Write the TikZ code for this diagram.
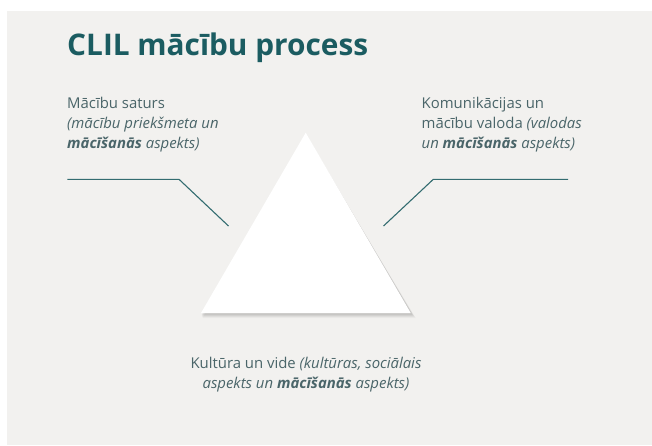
\documentclass[tikz,border=0pt]{standalone}
\usepackage{fontspec}
\setmainfont{Open Sans}
\definecolor{bgc}{HTML}{F2F1EF}
\definecolor{titlec}{HTML}{1B5C61}
\definecolor{textc}{HTML}{4A6569}
\definecolor{linec}{HTML}{336C70}
\begin{document}
\begin{tikzpicture}[x=1pt,y=-1pt,
  lbl/.style={inner sep=0pt,text=textc,font=\fontsize{14.9}{20}\selectfont},
  leader/.style={draw=linec,line width=1.1pt}]
\useasboundingbox (0,0) rectangle (652,445);
\fill[white] (0,0) rectangle (652,445);
\fill[bgc] (7,11) rectangle (652,445);
% title
\node[inner sep=0pt,anchor=base west,text=titlec,font=\fontsize{29.8}{32}\selectfont\bfseries] (title) at (67,55) {CLIL mācību process};
% triangle shadow
\foreach \o/\a in {5/0.03,4/0.04,3/0.05,2/0.06}{
  \fill[black,opacity=\a] (305.7+\o*0.3,132.7+\o) -- (410.7+\o,313+\o) -- (201+\o*0.3,313+\o) -- cycle;
}
\fill[white] (305.7,132.7) coordinate (apex) -- (410.7,313) coordinate (br) -- (201,313) coordinate (bl) -- cycle;
% labels (anchored at the baseline of the last line)
\node[lbl,anchor=base west,align=left] (lt) at (67,148) {Mācību saturs\\\textit{(mācību priekšmeta un}\\\textit{\textbf{mācīšanās} aspekts)}};
\node[lbl,anchor=base west,align=left] (rt) at (421.5,148) {Komunikācijas un\\mācību valoda \textit{(valodas}\\\textit{un \textbf{mācīšanās} aspekts)}};
\node[lbl,anchor=base,align=center] (bt) at (306,388) {Kultūra un vide \textit{(kultūras, sociālais}\\\textit{aspekts un \textbf{mācīšanās} aspekts)}};
% leader lines
\coordinate (l0) at (67.3,179.3);
\coordinate (l1) at (179,179.3);
\coordinate (l2) at (228.5,226);
\coordinate (r0) at (568,179.3);
\coordinate (r1) at (433.3,179.3);
\coordinate (r2) at (383.5,226);
\draw[leader] (l0) -- (l1) -- (l2);
\draw[leader] (r0) -- (r1) -- (r2);
\end{tikzpicture}
\end{document}
